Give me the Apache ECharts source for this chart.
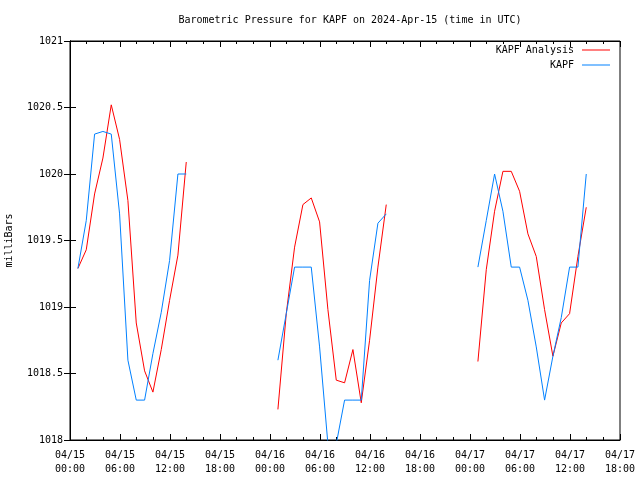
<!DOCTYPE html>
<html>
<head>
<meta charset="utf-8">
<script src="https://cdn.jsdelivr.net/npm/echarts@6/dist/echarts.min.js"></script>
<style>html,body{margin:0;padding:0;background:#fff;}#chart{width:640px;height:480px;}</style>
</head>
<body>
<div id="chart"></div>
<script>
const titleText = 'Barometric Pressure for KAPF on 2024-Apr-15 (time in UTC)';
const yAxisName = 'milliBars';
const xTickLabels = ['04/15\n00:00','04/15\n06:00','04/15\n12:00','04/15\n18:00','04/16\n00:00','04/16\n06:00','04/16\n12:00','04/16\n18:00','04/17\n00:00','04/17\n06:00','04/17\n12:00','04/17\n18:00'];
const dayStartHours = [0, 24, 48];
const obsTimes = ['00:57','01:57','02:57','03:57','04:57','05:57','06:57','07:57','08:57','09:57','10:57','11:57','12:57','13:57'];

const analysisDay1 = [1019.29,1019.43,1019.85,1020.12,1020.52,1020.26,1019.80,1018.88,1018.52,1018.36,1018.68,1019.05,1019.39,1020.09];
const analysisDay2 = [1018.23,1018.95,1019.45,1019.77,1019.82,1019.64,1018.98,1018.45,1018.43,1018.68,1018.28,1018.75,1019.30,1019.77];
const analysisDay3 = [1018.59,1019.28,1019.72,1020.02,1020.02,1019.87,1019.55,1019.38,1018.98,1018.63,1018.88,1018.95,1019.38,1019.75];

const obsDay1 = [1019.29,1019.65,1020.30,1020.32,1020.30,1019.70,1018.60,1018.30,1018.30,1018.65,1018.96,1019.35,1020.00,1020.00];
const obsDay2 = [1018.60,1018.95,1019.30,1019.30,1019.30,1018.70,1017.97,1017.97,1018.30,1018.30,1018.30,1019.20,1019.63,1019.70];
const obsDay3 = [1019.30,1019.65,1020.00,1019.72,1019.30,1019.30,1019.05,1018.70,1018.30,1018.63,1018.92,1019.30,1019.30,1020.00];

function hourOf(t){ const p = t.split(':'); return +p[0] + (+p[1])/60; }
function build(days){
  const out = [];
  days.forEach((vals, d) => {
    vals.forEach((v, i) => out.push([dayStartHours[d] + hourOf(obsTimes[i]), v]));
    if (d < days.length - 1) out.push([dayStartHours[d] + 18, '-']);
  });
  return out;
}

const font = 'DejaVu Sans Mono';
const chart = echarts.init(document.getElementById('chart'), null, {renderer:'canvas'});
const xCommon = {
  type:'value', min:0, max:66, interval:6,
  axisLine:{show:true, lineStyle:{color:'#000', width:1}},
  axisTick:{show:true, inside:true, length:6, lineStyle:{color:'#000'}},
  minorTick:{show:true, splitNumber:3, length:3, lineStyle:{color:'#000'}},
  splitLine:{show:false}, minorSplitLine:{show:false}
};
const yCommon = {
  type:'value', min:1018, max:1021, interval:0.5,
  axisLine:{show:true, lineStyle:{color:'#000', width:1}},
  axisTick:{show:true, inside:true, length:6, lineStyle:{color:'#000'}},
  splitLine:{show:false}
};
chart.setOption({
  animation:false,
  backgroundColor:'#fff',
  title:{text:titleText, left:345, textAlign:'center', top:10,
    textStyle:{fontFamily:font, fontSize:10, fontWeight:'normal', color:'#000'}},
  legend:[
    {data:['KAPF Analysis'], right:25, top:40, align:'right', icon:'rect', itemWidth:28, itemHeight:1, itemGap:0,
      textStyle:{fontFamily:font, fontSize:10, color:'#000', padding:[0,3,0,0]}},
    {data:['KAPF'], right:25, top:55, align:'right', icon:'rect', itemWidth:28, itemHeight:1, itemGap:0,
      textStyle:{fontFamily:font, fontSize:10, color:'#000', padding:[0,3,0,0]}}
  ],
  grid:{left:70, right:20, top:41, bottom:40, containLabel:false, outerBoundsMode:'none', show:true, borderColor:'#000', borderWidth:1},
  xAxis:[
    Object.assign({}, xCommon, {position:'bottom',
      axisLabel:{show:true, margin:8, fontFamily:font, fontSize:10, color:'#000', lineHeight:14,
        formatter:(v)=>xTickLabels[Math.round(v/6)]}}),
    Object.assign({}, xCommon, {position:'top', axisLabel:{show:false}})
  ],
  yAxis:[
    Object.assign({}, yCommon, {position:'left', name:yAxisName, nameLocation:'middle', nameGap:56, nameRotate:90,
      nameTextStyle:{fontFamily:font, fontSize:10, color:'#000'},
      axisLabel:{show:true, margin:7, fontFamily:font, fontSize:10, color:'#000',
        formatter:(v)=>String(Math.round(v*10)/10)}}),
    Object.assign({}, yCommon, {position:'right', axisLabel:{show:false}})
  ],
  series:[
    {name:'KAPF Analysis', type:'line', xAxisIndex:0, yAxisIndex:0, data:build([analysisDay1,analysisDay2,analysisDay3]),
      showSymbol:false, symbol:'none', clip:true, connectNulls:false, color:'#ff0000', lineStyle:{color:'#ff0000', width:1}},
    {name:'KAPF', type:'line', xAxisIndex:0, yAxisIndex:0, data:build([obsDay1,obsDay2,obsDay3]),
      showSymbol:false, symbol:'none', clip:true, connectNulls:false, color:'#0080ff', lineStyle:{color:'#0080ff', width:1}}
  ]
});
</script>
</body>
</html>
